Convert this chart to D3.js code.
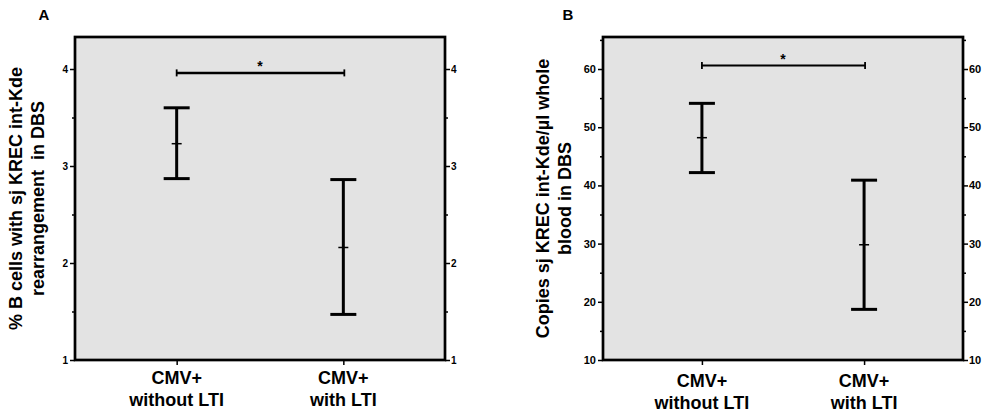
<!DOCTYPE html>
<html>
  <head>
    <meta charset="utf-8">
    <title>sj KREC int-Kde in DBS</title>
    <script src="https://cdn.jsdelivr.net/npm/d3@7"></script>
    <style>
      body { margin: 0; background: #fff; }
      svg { display: block; font-family: Arial, "Liberation Sans", sans-serif; font-weight: bold; }
      .frame { fill: #e3e3e3; stroke: #000; stroke-width: 2.7; }
      .axis path { display: none; }
      .axis line { stroke: #000; stroke-width: 1.5; }
      .axis text { fill: #000; font-weight: bold; }
      .bar { stroke: #000; stroke-width: 3; fill: none; }
      .mean { stroke: #000; stroke-width: 1.5; }
    </style>
  </head>
  <body>
    <svg id="chart" width="987" height="412"></svg>
    <script>
      // data
      const groups = [["CMV+", "without LTI"], ["CMV+", "with LTI"]];
      // panel A: % B cells with sj KREC int-Kde rearrangement
      const aMean = [3.23, 2.16];
      const aLow = [2.87, 1.47];
      const aHigh = [3.60, 2.86];
      const aTicks = [1, 2, 3, 4];
      const aMinor = [1.5, 2.5, 3.5];
      const aSig = 3.96;
      // panel B: copies / µl whole blood
      const bMean = [48.2, 29.8];
      const bLow = [42.2, 18.7];
      const bHigh = [54.1, 40.9];
      const bTicks = [10, 20, 30, 40, 50, 60];
      const bMinor = [15, 25, 35, 45, 55, 65];
      const bSig = 60.6;

      svg = d3.select("#chart");

      panels = [
        {
          letter: "A", left: 75, right: 445, top: 37, bottom: 360,
          domain: [1, 4.33], mean: aMean, low: aLow, high: aHigh,
          ticks: aTicks, minor: aMinor, sig: aSig, tickFont: 10,
          sigWidth: 2.5, letterX: 44, titleX: [16, 38],
          title: ["% B cells with sj KREC int-Kde", "rearrangement\u00a0 in DBS"],
          labelY: [384, 406]
        },
        {
          letter: "B", left: 603, right: 963, top: 37, bottom: 360,
          domain: [10, 65.5], mean: bMean, low: bLow, high: bHigh,
          ticks: bTicks, minor: bMinor, sig: bSig, tickFont: 11,
          sigWidth: 2, letterX: 568, titleX: [543, 565],
          title: ["Copies sj KREC int-Kde/\u00b5l whole", "blood in DBS"],
          labelY: [387, 409]
        }
      ];

      panels.forEach(drawPanel);

      function drawPanel(p) {
        let g = svg.append("g");
        let y = d3.scaleLinear().domain(p.domain).range([p.bottom, p.top]);
        let x = d3.scalePoint().domain([0, 1]).range([p.left, p.right]).padding(0.61);
        let fmt = d3.format("d");

        // plot frame
        g.append("rect")
          .classed("frame", true)
          .attr("x", p.left)
          .attr("y", p.top)
          .attr("width", p.right - p.left)
          .attr("height", p.bottom - p.top);

        // axes, both sides
        g.append("g").classed("axis", true)
          .attr("transform", "translate(" + p.left + ",0)")
          .call(d3.axisLeft(y).tickValues(p.ticks).tickFormat(fmt).tickSize(5).tickPadding(2));
        g.append("g").classed("axis", true)
          .attr("transform", "translate(" + p.right + ",0)")
          .call(d3.axisRight(y).tickValues(p.ticks).tickFormat(fmt).tickSize(5).tickPadding(1));
        g.selectAll(".axis text").style("font-size", p.tickFont + "px");
        g.append("g").classed("axis", true)
          .attr("transform", "translate(" + p.left + ",0)")
          .call(d3.axisLeft(y).tickValues(p.minor).tickSize(3).tickFormat(""));
        g.append("g").classed("axis", true)
          .attr("transform", "translate(" + p.right + ",0)")
          .call(d3.axisRight(y).tickValues(p.minor).tickSize(3).tickFormat(""));
        g.append("g").classed("axis", true)
          .attr("transform", "translate(0," + p.bottom + ")")
          .call(d3.axisBottom(x).tickSize(5).tickFormat(""));

        // error bars
        let bars = g.selectAll(".errbar")
          .data(p.mean.map(function(m, i) { return { i: i, mean: m, low: p.low[i], high: p.high[i] }; }))
          .enter().append("g")
            .classed("errbar", true);
        bars.append("line").classed("bar", true)
          .attr("x1", function(d) { return x(d.i); })
          .attr("x2", function(d) { return x(d.i); })
          .attr("y1", function(d) { return y(d.low); })
          .attr("y2", function(d) { return y(d.high); });
        ["low", "high"].forEach(function(k) {
          bars.append("line").classed("bar", true)
            .attr("x1", function(d) { return x(d.i) - 13; })
            .attr("x2", function(d) { return x(d.i) + 13; })
            .attr("y1", function(d) { return y(d[k]); })
            .attr("y2", function(d) { return y(d[k]); });
        });
        bars.append("line").classed("mean", true)
          .attr("x1", function(d) { return x(d.i) - 5; })
          .attr("x2", function(d) { return x(d.i) + 5; })
          .attr("y1", function(d) { return y(d.mean); })
          .attr("y2", function(d) { return y(d.mean); });

        // significance bracket
        let sy = y(p.sig);
        g.append("line")
          .attr("x1", x(0)).attr("x2", x(1) + 1)
          .attr("y1", sy).attr("y2", sy)
          .style("stroke", "#000").style("stroke-width", p.sigWidth);
        [x(0), x(1) + 1].forEach(function(sx) {
          g.append("line")
            .attr("x1", sx).attr("x2", sx)
            .attr("y1", sy - 3.5).attr("y2", sy + 3.5)
            .style("stroke", "#000").style("stroke-width", 1.8);
        });
        g.append("text")
          .attr("x", (x(0) + x(1)) / 2)
          .attr("y", sy - 2)
          .attr("text-anchor", "middle")
          .style("font-size", "14px")
          .text("*");

        // category labels
        groups.forEach(function(lines, i) {
          lines.forEach(function(t, j) {
            g.append("text")
              .attr("x", x(i))
              .attr("y", p.labelY[j])
              .attr("text-anchor", "middle")
              .style("font-size", "18px")
              .text(t);
          });
        });

        // y title, two rotated lines
        let cy = (p.top + p.bottom) / 2;
        p.title.forEach(function(t, j) {
          g.append("text")
            .attr("transform", "translate(" + p.titleX[j] + "," + cy + ") rotate(-90)")
            .attr("text-anchor", "middle")
            .attr("dy", "0.35em")
            .style("font-size", "18px")
            .text(t);
        });

        // panel letter
        g.append("text")
          .attr("x", p.letterX)
          .attr("y", 20)
          .attr("text-anchor", "middle")
          .style("font-size", "15px")
          .text(p.letter);
      }
    </script>
  </body>
</html>
